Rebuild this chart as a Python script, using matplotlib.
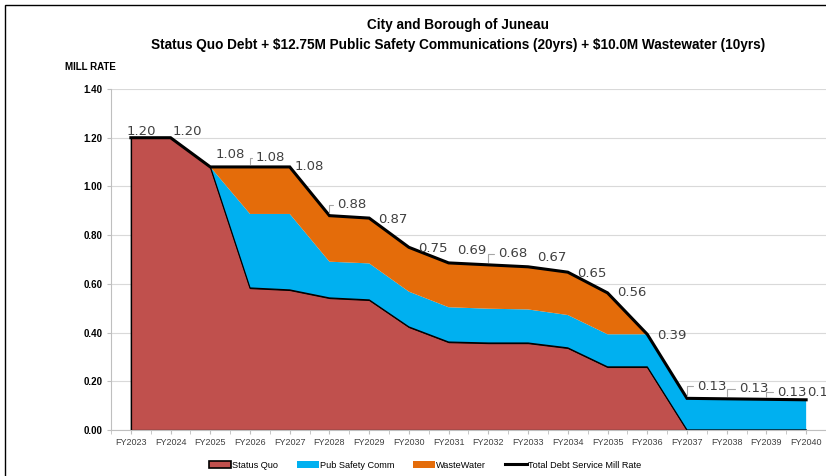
import matplotlib
matplotlib.use("Agg")
import matplotlib.pyplot as plt
from matplotlib.patches import Patch, Rectangle
from matplotlib.lines import Line2D
import numpy as np

plt.rcParams['font.family'] = ['Liberation Sans Narrow', 'Liberation Sans', 'DejaVu Sans']

years = ['FY2023', 'FY2024', 'FY2025', 'FY2026', 'FY2027', 'FY2028', 'FY2029', 'FY2030', 'FY2031',
         'FY2032', 'FY2033', 'FY2034', 'FY2035', 'FY2036', 'FY2037', 'FY2038', 'FY2039', 'FY2040']
status_quo = [1.20, 1.20, 1.08, 0.583, 0.575, 0.542, 0.534, 0.423, 0.361,
              0.357, 0.357, 0.337, 0.259, 0.259, 0.0, 0.0, 0.0, 0.0]
pub_safety = [0.0, 0.0, 0.0, 0.304, 0.312, 0.149, 0.150, 0.145, 0.143,
              0.141, 0.138, 0.135, 0.134, 0.134, 0.130, 0.128, 0.126, 0.124]
wastewater = [0.0, 0.0, 0.0, 0.193, 0.193, 0.189, 0.186, 0.182, 0.182,
              0.180, 0.175, 0.176, 0.170, 0.0, 0.0, 0.0, 0.0, 0.0]

# label placement (pixels: right, up) and whether Excel drew a leader line
label_offsets = [(-4, 6), (2, 6), (5, 12), (6, 9), (5, 0), (8, 11), (9, -1), (9, -1), (8, 12),
                 (10, 11), (9, 9), (9, -1), (10, 0), (10, -1), (10, 12), (12, 10), (11, 7), (1, 7)]
leaders = {3, 5, 9, 14, 15, 16}

c_red = '#C0504D'
c_blue = '#00B0F0'
c_orange = '#E46C0A'

x = np.arange(len(years))
sq = np.array(status_quo)
ps = np.array(pub_safety)
ww = np.array(wastewater)
total = sq + ps + ww

fig = plt.figure(figsize=(8.26, 4.76), dpi=100)
ax = fig.add_axes([111 / 826, 46 / 476, 715 / 826, 341 / 476])

ax.fill_between(x, 0, sq, facecolor=c_red, edgecolor='black', linewidth=0.9, zorder=2)
ax.fill_between(x, sq, sq + ps, facecolor=c_blue, edgecolor='none', zorder=2)
ax.fill_between(x, sq + ps, total, facecolor=c_orange, edgecolor='none', zorder=2)
ax.plot(x, sq, color='black', lw=0.9, zorder=3)
ax.plot([0, 0], [0, sq[0]], color='black', lw=0.9, zorder=3)
ax.plot(x, total, color='black', lw=2.2, zorder=4, solid_joinstyle='miter')

for i, v in enumerate(total):
    dx, dy = label_offsets[i]
    kw = {}
    if i in leaders:
        kw['arrowprops'] = dict(arrowstyle='-', color='#a6a6a6', lw=0.8,
                                connectionstyle='angle,angleA=0,angleB=90,rad=0',
                                relpos=(0, 0.5), shrinkA=1, shrinkB=2)
    ax.annotate(f'{v:.2f}', xy=(x[i], v), xytext=(dx * 0.72, dy * 0.72),
                textcoords='offset points', ha='left', va='center',
                fontsize=9.5, color='#404040', family=['DejaVu Sans'],
                annotation_clip=False, zorder=5, **kw)

ax.set_xlim(-0.5, len(years) - 0.5)
ax.set_ylim(0, 1.4)
ax.set_yticks(np.arange(0, 1.41, 0.2))
ax.set_yticklabels([f'{t:.2f}' for t in np.arange(0, 1.41, 0.2)], fontsize=7, fontweight='bold')
ax.set_xticks(x)
ax.set_xticklabels(years, fontsize=6.5, color='#404040')
ax.set_xticks(np.arange(-0.5, len(years), 1.0), minor=True)
ax.tick_params(axis='x', which='both', length=3, color='#bfbfbf', pad=3)
ax.tick_params(axis='y', length=3, color='#bfbfbf', pad=3)
ax.grid(axis='y', color='#d9d9d9', lw=0.8, zorder=0)
ax.set_axisbelow(True)
for s in ['top', 'right']:
    ax.spines[s].set_visible(False)
for s in ['left', 'bottom']:
    ax.spines[s].set_color('#bfbfbf')

fig.text(458 / 826, 1 - 25 / 476, 'City and Borough of Juneau', ha='center', va='center',
         fontsize=9.8, fontweight='bold')
fig.text(458 / 826, 1 - 45 / 476,
         r'Status Quo Debt + \$12.75M Public Safety Communications (20yrs) + \$10.0M Wastewater (10yrs)',
         ha='center', va='center', fontsize=9.8, fontweight='bold')
fig.text(65 / 826, 1 - 67 / 476, 'MILL RATE', ha='left', va='center', fontsize=7, fontweight='bold')

handles = [Patch(facecolor=c_red, edgecolor='black', linewidth=1.2),
           Patch(facecolor=c_blue, edgecolor='none'),
           Patch(facecolor=c_orange, edgecolor='none'),
           Line2D([0], [0], color='black', lw=2.2)]
fig.legend(handles, ['Status Quo', 'Pub Safety Comm', 'WasteWater', 'Total Debt Service Mill Rate'],
           loc='center', bbox_to_anchor=(425 / 826, 11 / 476), ncol=4, frameon=False,
           fontsize=6.6, handlelength=2.4, handleheight=0.8, handletextpad=0.15, columnspacing=2.0)

fig.add_artist(Rectangle((5 / 826, -0.1), 1.2, 1 - 5 / 476 + 0.1, transform=fig.transFigure,
                         fill=False, edgecolor='black', linewidth=1.0))

fig.savefig('out.png', dpi=100)
